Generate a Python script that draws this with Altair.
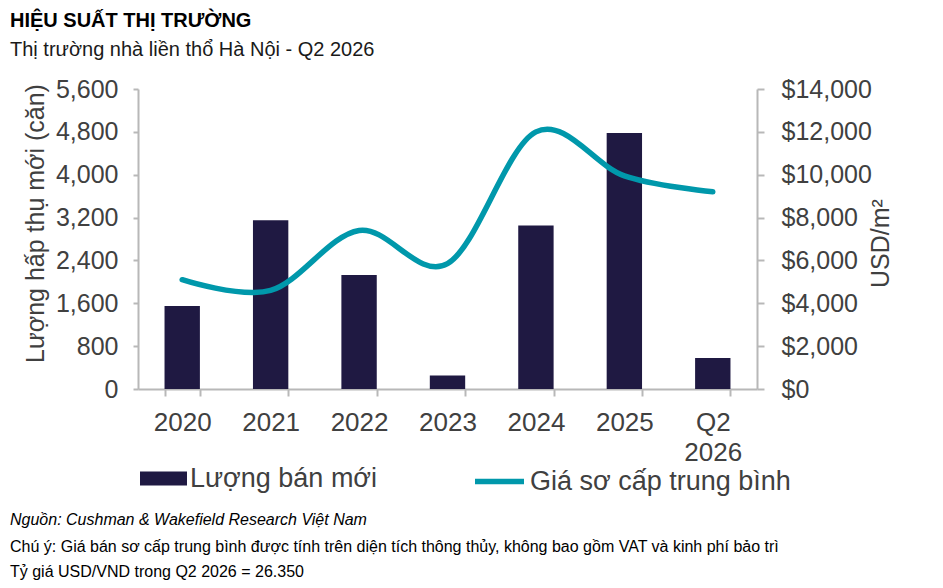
import altair as alt
import pandas as pd

categories = ["2020", "2021", "2022", "2023", "2024", "2025", "Q2 2026"]
new_sales = [1550, 3150, 2130, 250, 3050, 4780, 580]
avg_price = [5100, 4600, 7400, 5850, 12000, 9950, 9200]
sales_ticks = [0, 800, 1600, 2400, 3200, 4000, 4800, 5600]
price_ticks = [0, 2000, 4000, 6000, 8000, 10000, 12000, 14000]

title_text = "HIỆU SUẤT THỊ TRƯỜNG"
subtitle_text = "Thị trường nhà liền thổ Hà Nội - Q2 2026"
note_source = "Nguồn: Cushman & Wakefield Research Việt Nam"
note_1 = "Chú ý: Giá bán sơ cấp trung bình được tính trên diện tích thông thủy, không bao gồm VAT và kinh phí bảo trì"
note_2 = "Tỷ giá USD/VND trong Q2 2026 = 26.350"
bar_name = "Lượng bán mới"
line_name = "Giá sơ cấp trung bình"
left_title = "Lượng hấp thụ mới (căn)"
right_title = "USD/m²"

BAR = "#1f1942"
TEAL = "#0098ab"
AXIS = "#b8b8b8"
LBL = "#404040"
FONT = "Liberation Sans"

df = pd.DataFrame({
    "cat": categories,
    "sales": new_sales,
    "price": avg_price,
    "bar_series": [bar_name] * len(categories),
    "line_series": [line_name] * len(categories),
})

x_enc = alt.X(
    "cat:N", sort=categories,
    scale=alt.Scale(paddingInner=0.6, paddingOuter=0.3),
    axis=alt.Axis(
        title=None, labelAngle=0, labelExpr="split(datum.label, ' ')",
        labelFont=FONT, labelFontSize=26, labelColor=LBL, labelLineHeight=30,
        labelPadding=13, tickBand="extent", tickSize=7, tickColor=AXIS, tickWidth=2,
        domainColor=AXIS, domainWidth=2, grid=False,
    ),
)

bars = alt.Chart(df).mark_bar().encode(
    x=x_enc,
    y=alt.Y(
        "sales:Q",
        scale=alt.Scale(domain=[0, 5600], nice=False),
        axis=alt.Axis(
            values=sales_ticks, format=",.0f", title=left_title, grid=False,
            labelFont=FONT, labelFontSize=25, labelColor=LBL, labelPadding=15,
            tickSize=5, tickColor=AXIS, tickWidth=2, domainColor=AXIS, domainWidth=2,
            titleFont=FONT, titleFontSize=25, titleFontWeight="normal", titleColor=LBL,
            titleAngle=270, titleBaseline="middle", titleX=-103, titleY=134,
        ),
    ),
    fill=alt.Fill(
        "bar_series:N", scale=alt.Scale(range=[BAR]),
        legend=alt.Legend(
            orient="none", legendX=2, legendY=366, title=None, padding=0,
            symbolType="M-1,-0.3L1,-0.3L1,0.3L-1,0.3Z", symbolSize=2209,
            symbolStrokeWidth=0, labelFont=FONT, labelFontSize=27, labelColor=LBL,
            labelOffset=3, labelLimit=500,
        ),
    ),
)

line = alt.Chart(df).mark_line(interpolate="cardinal", strokeWidth=5.5, strokeCap="round").encode(
    x=alt.X("cat:N", sort=categories),
    y=alt.Y(
        "price:Q",
        scale=alt.Scale(domain=[0, 14000], nice=False),
        axis=alt.Axis(
            orient="right", values=price_ticks, format="$,.0f", title=right_title, grid=False,
            labelFont=FONT, labelFontSize=25, labelColor=LBL, labelPadding=17,
            tickSize=7, tickColor=AXIS, tickWidth=2, domainColor=AXIS, domainWidth=2,
            titleFont=FONT, titleFontSize=25, titleFontWeight="normal", titleColor=LBL,
            titleAngle=270, titleBaseline="middle", titleX=123, titleY=154,
        ),
    ),
    stroke=alt.Stroke(
        "line_series:N", scale=alt.Scale(range=[TEAL]),
        legend=alt.Legend(
            orient="none", legendX=334, legendY=365, title=None, padding=0,
            symbolType="stroke", symbolSize=2401, symbolStrokeWidth=5.5,
            labelFont=FONT, labelFontSize=27, labelColor=LBL,
            labelOffset=3, labelLimit=500,
        ),
    ),
)


def note(text, x, y, size, weight="normal", style="normal", color="#000000"):
    return alt.Chart(alt.Data(values=[{"k": 1}])).mark_text(
        align="left", baseline="middle", font=FONT, fontSize=size,
        fontWeight=weight, fontStyle=style, color=color,
    ).encode(x=alt.value(x), y=alt.value(y), text=alt.value(text))


texts = [
    note(title_text, -128, -68, 20, weight="bold"),
    note(subtitle_text, -128, -39, 20, color="#1a1a1a"),
    note(note_source, -128, 431, 16, style="italic"),
    note(note_1, -128, 458, 16),
    note(note_2, -128, 483, 16),
]

chart = alt.layer(bars, line, *texts).resolve_scale(
    y="independent", fill="independent", stroke="independent"
).properties(
    width=619, height=300,
    padding={"left": 130, "top": 81, "right": 170, "bottom": 191},
    autosize=alt.AutoSizeParams(type="none"),
).configure_view(stroke=None)

chart.save("out.html", embed_options={"renderer": "svg", "actions": False})
